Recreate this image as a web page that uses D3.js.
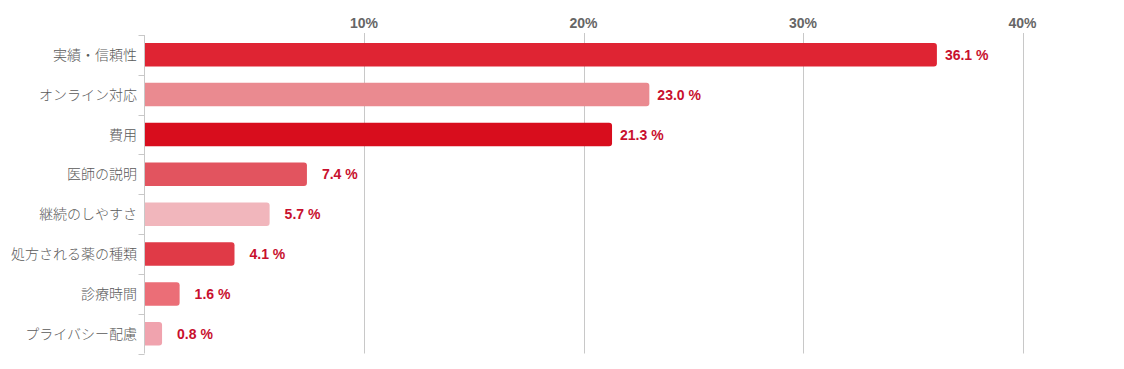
<!DOCTYPE html>
<html><head><meta charset="utf-8">
<script src="https://cdn.jsdelivr.net/npm/d3@7"></script>
<style>body{margin:0;background:#fff;}svg{display:block;}</style>
</head><body>
<svg id="c" width="1124" height="369"></svg>
<script>
const categories = ["実績・信頼性","オンライン対応","費用","医師の説明","継続のしやすさ","処方される薬の種類","診療時間","プライバシー配慮"];
const values = [36.1, 23.0, 21.3, 7.4, 5.7, 4.1, 1.6, 0.8];
const barColors = ["#df2433","#ea8a90","#d80d1d","#e2545f","#f1b6bc","#e03a47","#eb6e77","#f0a3ae"];
const tickValues = [10, 20, 30, 40];
const tickLabels = ["10%","20%","30%","40%"];

(function () {
const svg = d3.select("#c");
const mLeft = 144.5, mTop = 35, mBottom = 353.5;
const x = d3.scaleLinear().domain([0, 40]).range([mLeft, 1022.5]);
const y = d3.scaleBand().domain(categories).range([mTop, mBottom]).paddingInner(0.41).paddingOuter(0.2);
const yb = d3.scaleBand().domain(categories).range([mTop, mBottom]);

// gridlines
svg.append("g").selectAll("line").data(tickValues).join("line")
  .attr("x1", d => Math.round(x(d)) + 0.5).attr("x2", d => Math.round(x(d)) + 0.5)
  .attr("y1", 33).attr("y2", mBottom)
  .attr("stroke", "#c8c8c8").attr("stroke-width", 1);

// top tick labels
svg.append("g").selectAll("text").data(tickValues).join("text")
  .attr("x", d => x(d)).attr("y", 28)
  .attr("text-anchor", "middle")
  .attr("font-family", "'Liberation Sans', Arial, sans-serif")
  .attr("font-weight", "bold").attr("font-size", 14).attr("fill", "#666")
  .text((d, i) => tickLabels[i]);

// left axis
svg.append("line").attr("x1", mLeft).attr("x2", mLeft).attr("y1", mTop).attr("y2", mBottom)
  .attr("stroke", "#c8c8c8");
const bounds = categories.map(c => yb(c)).concat([mBottom]);
svg.append("g").selectAll("line").data(bounds).join("line")
  .attr("x1", mLeft - 6).attr("x2", mLeft).attr("y1", d => Math.round(d) + 0.5).attr("y2", d => Math.round(d) + 0.5)
  .attr("stroke", "#c8c8c8");

// bars with right rounded corners
const r = 3;
svg.append("g").selectAll("path").data(values).join("path")
  .attr("d", (d, i) => {
    const x0 = mLeft + 0.5, x1 = x(d), y0 = y(categories[i]), h = y.bandwidth();
    return `M${x0},${y0}H${x1 - r}Q${x1},${y0} ${x1},${y0 + r}V${y0 + h - r}Q${x1},${y0 + h} ${x1 - r},${y0 + h}H${x0}Z`;
  })
  .attr("fill", (d, i) => barColors[i]);

// category labels
svg.append("g").selectAll("text").data(categories).join("text")
  .attr("x", 137).attr("y", d => yb(d) + yb.bandwidth() / 2 + 5)
  .attr("text-anchor", "end")
  .attr("font-family", "'Noto Sans CJK JP', sans-serif")
  .attr("font-weight", 300)
  .attr("font-size", 14).attr("fill", "#5a5a5a")
  .text(d => d);

// value labels
svg.append("g").selectAll("text").data(values).join("text")
  .attr("x", d => x(d) + (d > 20 ? 8 : 15))
  .attr("y", (d, i) => yb(categories[i]) + yb.bandwidth() / 2 + 5)
  .attr("font-family", "'Liberation Sans', Arial, sans-serif")
  .attr("font-weight", "bold").attr("font-size", 14).attr("fill", "#c8102e")
  .text(d => d.toFixed(1) + " %");
})();
</script>
</body></html>
